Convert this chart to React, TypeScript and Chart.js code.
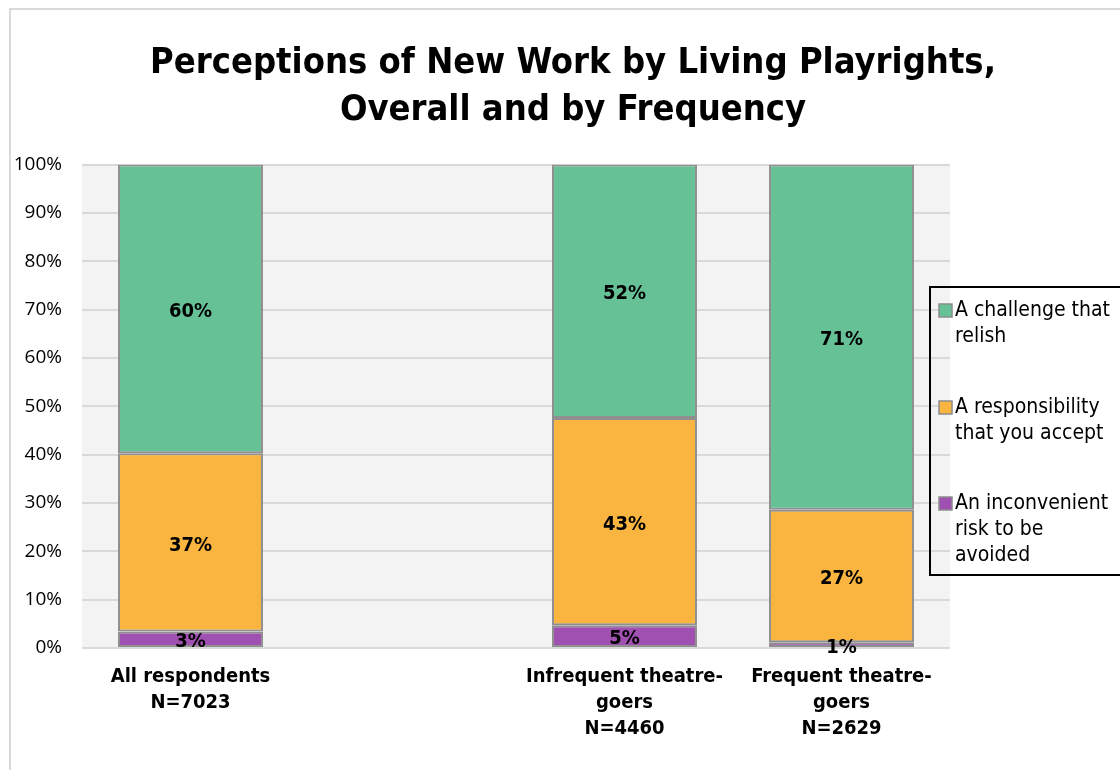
import React, { useEffect, useRef } from "react";
import { Chart, registerables } from "chart.js";

Chart.register(...registerables);

const title = ["Perceptions of New Work by Living Playrights,", "Overall and by Frequency"];
const categories = [
  ["All respondents", "N=7023"],
  [""],
  ["Infrequent theatre-", "goers", "N=4460"],
  ["Frequent theatre-", "goers", "N=2629"],
];
const seriesNames = ["An inconvenient risk to be avoided", "A responsibility that you accept", "A challenge that relish"];
const legendLines = [
  ["An inconvenient", "risk to be", "avoided"],
  ["A responsibility", "that you accept"],
  ["A challenge that", "relish"],
];
const inconvenient = [3.4, null, 4.7, 1.2];
const responsibility = [36.9, null, 42.9, 27.4];
const challenge = [59.7, null, 52.4, 71.4];
const yTicks = [0, 10, 20, 30, 40, 50, 60, 70, 80, 90, 100];

const colors = ["#A050B0", "#F9B540", "#66C296"];
const FONT = "'DejaVu Sans Condensed', 'DejaVu Sans', sans-serif";

const framePlugin = {
  id: "frame",
  afterLayout(chart: any) {
    if (chart.titleBlock) chart.titleBlock.left = 26;
  },
  beforeDraw(chart: any) {
    const { ctx, chartArea } = chart;
    ctx.save();
    ctx.fillStyle = "#ffffff";
    ctx.fillRect(0, 0, chart.width, chart.height);
    ctx.strokeStyle = "#d9d9d9";
    ctx.lineWidth = 2;
    ctx.strokeRect(10, 9, chart.width + 20, chart.height + 20);
    ctx.fillStyle = "#f3f3f3";
    ctx.fillRect(chartArea.left, chartArea.top, chartArea.right - chartArea.left, chartArea.bottom - chartArea.top);
    ctx.restore();
  },
};

const labelPlugin = {
  id: "segLabels",
  afterDatasetsDraw(chart: any) {
    const { ctx } = chart;
    ctx.save();
    ctx.font = `bold 20px ${FONT}`;
    ctx.fillStyle = "#000";
    ctx.textAlign = "center";
    ctx.textBaseline = "middle";
    chart.data.datasets.forEach((ds: any, i: number) => {
      const meta = chart.getDatasetMeta(i);
      meta.data.forEach((el: any, j: number) => {
        const v = ds.data[j];
        if (v == null) return;
        const { x, y, base } = el.getProps(["x", "y", "base"], true);
        ctx.fillText(`${Math.round(v)}%`, x, (y + base) / 2 + 3);
      });
    });
    ctx.restore();
  },
};

const legendPlugin = {
  id: "boxLegend",
  afterDraw(chart: any) {
    const { ctx } = chart;
    ctx.save();
    ctx.strokeStyle = "#000";
    ctx.lineWidth = 2;
    ctx.strokeRect(930, 287, 300, 288);
    ctx.font = `21px ${FONT}`;
    ctx.textBaseline = "middle";
    ctx.textAlign = "left";
    const starts = [311, 408, 504];
    const order = [2, 1, 0];
    order.forEach((di, k) => {
      const ds = chart.data.datasets[di];
      const y0 = starts[k];
      ctx.fillStyle = ds.backgroundColor;
      ctx.fillRect(939, y0 - 7, 13, 13);
      ctx.strokeStyle = "#8c8c8c";
      ctx.lineWidth = 1.5;
      ctx.strokeRect(939, y0 - 7, 13, 13);
      ctx.fillStyle = "#000";
      legendLines[di].forEach((line, li) => {
        ctx.fillText(line, 955, y0 + li * 26);
      });
    });
    ctx.restore();
  },
};

export default function App() {
  const ref = useRef<HTMLCanvasElement>(null);
  useEffect(() => {
    document.body.style.margin = "0";
    const chart = new Chart(ref.current!, {
      type: "bar",
      data: {
        labels: categories,
        datasets: [inconvenient, responsibility, challenge].map((d, i) => ({
          label: seriesNames[i],
          data: d,
          backgroundColor: colors[i],
          borderColor: "#8f8f8f",
          borderWidth: 2,
          borderSkipped: false,
          categoryPercentage: 1,
          barPercentage: 0.668,
          yAxisID: "y",
        })),
      },
      options: {
        responsive: false,
        animation: false,
        devicePixelRatio: 1,
        layout: { padding: { left: 0, right: 0, top: 0, bottom: 0 } },
        plugins: {
          legend: { display: false },
          tooltip: { enabled: false },
          title: {
            display: true,
            text: title,
            color: "#000",
            font: { family: FONT, size: 36, weight: "bold", lineHeight: 1.3 },
            padding: { top: 40, bottom: 31 },
          },
        },
        scales: {
          x: {
            stacked: true,
            grid: { display: false },
            border: { display: false },
            ticks: {
              color: "#000",
              maxRotation: 0,
              autoSkip: false,
              padding: 8,
              font: { family: FONT, size: 20, weight: "bold", lineHeight: "26px" as any },
            },
            afterFit: (s: any) => {
              s.height = 122;
            },
          },
          y: {
            stacked: true,
            min: 0,
            max: 100,
            afterBuildTicks: (s: any) => {
              s.ticks = yTicks.map((v) => ({ value: v }));
            },
            grid: { color: "#d9d9d9", lineWidth: 2, drawTicks: false },
            border: { display: false },
            ticks: {
              color: "#000",
              padding: 20,
              font: { family: "'Open Sans', sans-serif", size: 19 },
              callback: (v: any) => `${v}%`,
            },
            afterFit: (s: any) => {
              s.width = 82;
            },
          },
          y2: {
            position: "right",
            display: true,
            grid: { display: false },
            border: { display: false },
            ticks: { display: false },
            afterFit: (s: any) => {
              s.width = 170;
            },
          },
        },
      },
      plugins: [framePlugin, labelPlugin, legendPlugin],
    });
    return () => chart.destroy();
  }, []);
  return (
    <div style={{ width: 1120, height: 770 }}>
      <canvas ref={ref} width={1120} height={770} />
    </div>
  );
}
